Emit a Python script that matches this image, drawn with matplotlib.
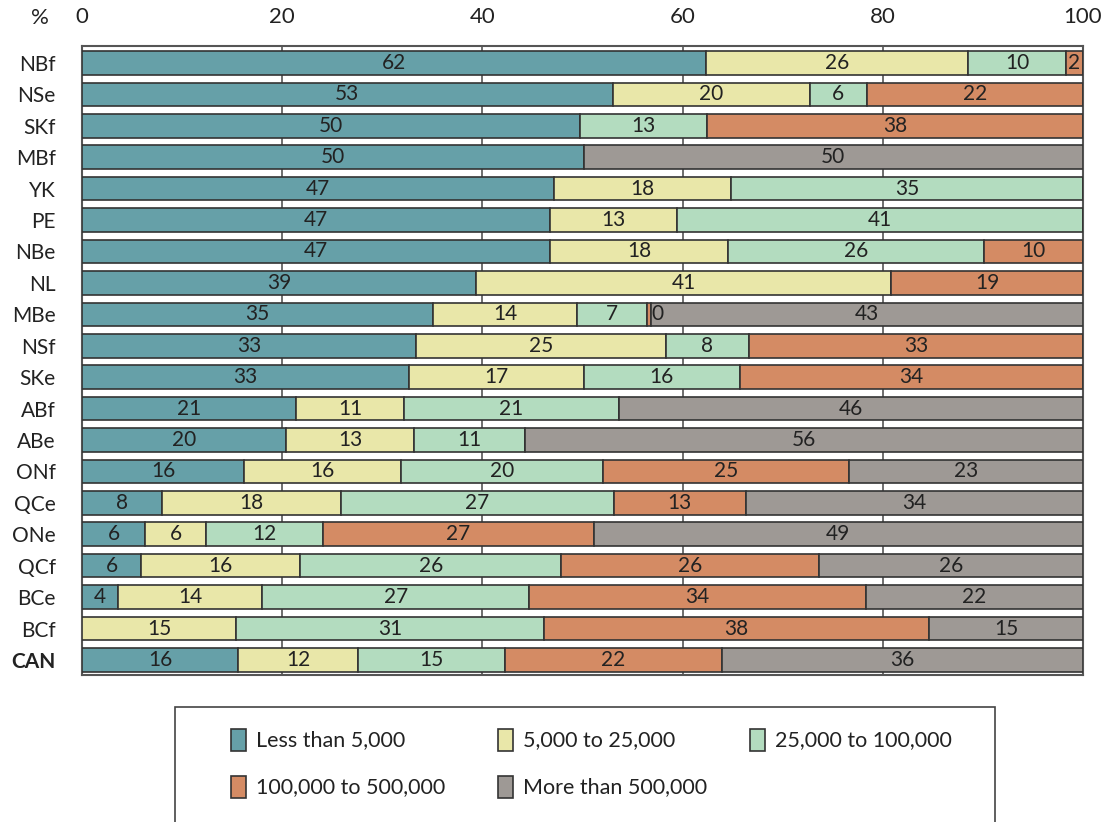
import matplotlib.pyplot as plt
from matplotlib.patches import Rectangle
import numpy as np

plt.rcParams['font.family'] = ['Lato', 'DejaVu Sans']

regions = ["NBf", "NSe", "SKf", "MBf", "YK", "PE", "NBe", "NL", "MBe", "NSf",
           "SKe", "ABf", "ABe", "ONf", "QCe", "ONe", "QCf", "BCe", "BCf", "CAN"]

series_names = ["Less than 5,000", "5,000 to 25,000", "25,000 to 100,000",
                "100,000 to 500,000", "More than 500,000"]

less_5k     = [62.3, 53.0, 49.8, 50.1, 47.2, 46.8, 46.8, 39.4, 35.1, 33.4,
               32.7, 21.4, 20.4, 16.2, 8.0, 6.3, 5.9, 3.6, 0.0, 15.6]
k5_to_25k   = [26.2, 19.7, 0.0, 0.0, 17.6, 12.6, 17.7, 41.4, 14.4, 24.9,
               17.4, 10.8, 12.8, 15.7, 17.9, 6.1, 15.9, 14.4, 15.4, 12.0]
k25_to_100k = [9.8, 5.7, 12.6, 0.0, 35.2, 40.6, 25.6, 0.0, 6.9, 8.3,
               15.6, 21.4, 11.1, 20.1, 27.2, 11.7, 26.1, 26.7, 30.8, 14.7]
k100_to_500k = [1.7, 21.6, 37.6, 0.0, 0.0, 0.0, 9.9, 19.2, 0.4, 33.4,
                34.3, 0.0, 0.0, 24.6, 13.2, 27.0, 25.7, 33.6, 38.4, 21.6]
more_500k   = [0.0, 0.0, 0.0, 49.9, 0.0, 0.0, 0.0, 0.0, 43.2, 0.0,
               0.0, 46.4, 55.7, 23.4, 33.7, 48.9, 26.4, 21.7, 15.4, 36.1]

colors = ["#66a0a8", "#e9e7a9", "#b3dcbf", "#d48b64", "#9e9995"]

data = [less_5k, k5_to_25k, k25_to_100k, k100_to_500k, more_500k]

fig = plt.figure(figsize=(11.17, 8.22), dpi=100)
ax = fig.add_axes([82 / 1117, 1 - 675 / 822, 1001 / 1117, 629 / 822])

y = np.arange(len(regions))
left = np.zeros(len(regions))
for vals, col, name in zip(data, colors, series_names):
    vals = np.array(vals)
    ax.barh(y, vals, left=left, height=0.75, color=col, edgecolor="#333333",
            linewidth=1.2, zorder=3, label=name)
    for i in range(len(regions)):
        v = vals[i]
        if v <= 0:
            continue
        if v < 1.2:
            ax.text(left[i] + v + 0.1, y[i], "%.0f" % v, ha="left", va="center",
                    fontsize=15, color="#222222", zorder=4)
        else:
            ax.text(left[i] + v / 2, y[i], "%.0f" % v, ha="center", va="center",
                    fontsize=15, color="#222222", zorder=4)
    left = left + vals

ax.set_xlim(0, 100)
ax.set_ylim(19.48, -0.54)
ax.set_xticks([0, 20, 40, 60, 80, 100])
ax.xaxis.tick_top()
ax.tick_params(axis="x", length=0, pad=14, labelsize=16, colors="#222222")
ax.set_yticks(y)
ax.set_yticklabels(regions)
ax.tick_params(axis="y", length=0, pad=19, labelsize=15, colors="#222222")
ax.get_yticklabels()[-1].set_fontweight("bold")
ax.grid(axis="x", color="#555555", linewidth=1.2, zorder=0)
for s in ax.spines.values():
    s.set_color("#555555")
    s.set_linewidth(1.5)

fig.text(40 / 1117, 1 - 18 / 822, "%", ha="center", va="center", fontsize=16,
         color="#222222")

# legend box (runs off the bottom edge)
fig.patches.append(Rectangle((175 / 1117, -0.05), 820 / 1117, 0.05 + 1 - 707 / 822,
                             transform=fig.transFigure, facecolor="white",
                             edgecolor="#444444", linewidth=1.2))

legend_pos = [(231, 740), (498, 740), (750, 740), (231, 787), (498, 787)]
for (px, py), col, name in zip(legend_pos, colors, series_names):
    fig.patches.append(Rectangle((px / 1117, 1 - (py + 11) / 822), 15 / 1117, 22 / 822,
                                 transform=fig.transFigure, facecolor=col,
                                 edgecolor="#333333", linewidth=1.2))
    fig.text((px + 25) / 1117, 1 - py / 822, name, ha="left", va="center",
             fontsize=15.5, color="#222222")

fig.savefig("out.png", dpi=100)
